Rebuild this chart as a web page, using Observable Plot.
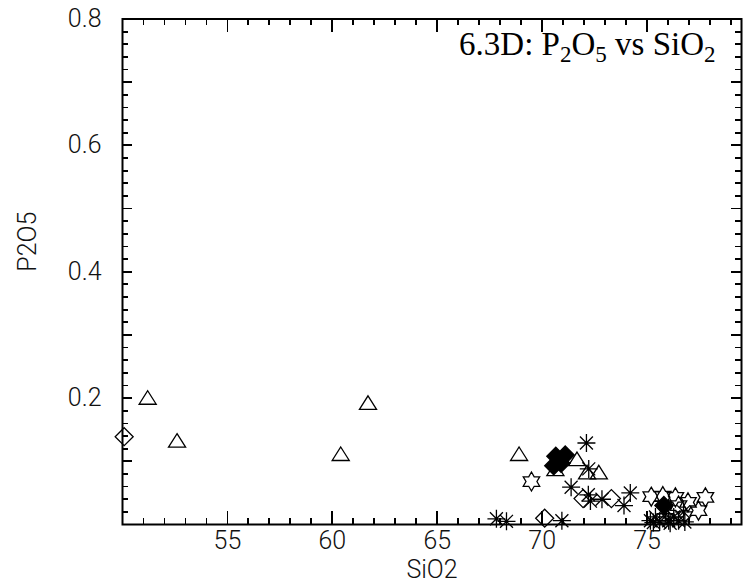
<!DOCTYPE html>
<html>
<head>
<meta charset="utf-8">
<script src="https://cdn.jsdelivr.net/npm/d3@7"></script>
<script src="https://cdn.jsdelivr.net/npm/@observablehq/plot@0.6"></script>
<style>
  html, body { margin: 0; padding: 0; background: #fff; }
  #chart { width: 747px; height: 586px; }
</style>
</head>
<body>
<div id="chart"></div>
<script>
// ---- data (SiO2 wt%, P2O5 wt%) ----
const triangleSiO2 = [51.2, 52.6, 60.4, 61.7, 68.9, 70.63, 71.66, 72.14, 72.7];
const triangleP2O5 = [0.201, 0.133, 0.112, 0.193, 0.112, 0.088, 0.104, 0.083, 0.083];

const diamondSiO2 = [50.08, 70.12, 71.95, 73.3];
const diamondP2O5 = [0.139, 0.010, 0.041, 0.041];

const asteriskSiO2 = [67.82, 68.3, 70.94, 72.11, 72.22, 71.38, 72.2, 72.3, 72.85, 74.2, 73.9,
                      75.16, 75.4, 75.6, 75.87, 76.03, 76.27, 76.5, 76.8, 76.74, 75.3, 76.1];
const asteriskP2O5 = [0.009, 0.005, 0.006, 0.129, 0.088, 0.059, 0.047, 0.037, 0.040, 0.050, 0.030,
                      0.006, 0.012, 0.004, 0.017, 0.006, 0.012, 0.006, 0.004, 0.020, 0.003, 0.002];

const hexagramSiO2 = [69.49, 75.2, 75.75, 76.35, 76.95, 77.78, 77.45, 76.5];
const hexagramP2O5 = [0.068, 0.044, 0.045, 0.043, 0.035, 0.043, 0.022, 0.030];

const filledSiO2 = [70.55, 70.65, 71.1, 70.9, 75.8];
const filledP2O5 = [0.093, 0.108, 0.110, 0.097, 0.030];

const xMajorTicks = [55, 60, 65, 70, 75];
const xMinorTicks = d3.range(51, 80, 1);
const yLabelTicks = [0.2, 0.4, 0.6, 0.8];
const yMajorTicks = [0.1, 0.2, 0.3, 0.4, 0.5, 0.6, 0.7];
const yMinorTicks = d3.range(1, 40).map(i => +(i * 0.02).toFixed(2));

const xDomain = [50, 79.5];
const yDomain = [0, 0.8];
const xTitle = "SiO2";
const yTitle = "P2O5";
const noteText = "6.3D: P2O5 vs SiO2";

// ---- build tables ----
const zip = (xs, ys) => xs.map((x, i) => ({SiO2: x, P2O5: ys[i]}));
const triangles = zip(triangleSiO2, triangleP2O5);
const diamonds = zip(diamondSiO2, diamondP2O5);
const asterisks = zip(asteriskSiO2, asteriskP2O5);
const hexagrams = zip(hexagramSiO2, hexagramP2O5);
const filled = zip(filledSiO2, filledP2O5);

// ---- custom IDL-like symbols ----
const rad = size => Math.sqrt(size / Math.PI);
const symTriangle = {draw(c, size) { const r = rad(size), h = r * 0.75, w = r * 0.95;
  c.moveTo(0, -h); c.lineTo(w, h); c.lineTo(-w, h); c.closePath(); }};
const symDiamond = {draw(c, size) { const r = rad(size);
  c.moveTo(0, -r); c.lineTo(r, 0); c.lineTo(0, r); c.lineTo(-r, 0); c.closePath(); }};
const symAsterisk = {draw(c, size) { const r = rad(size), d = r * 0.72;
  c.moveTo(-r, 0); c.lineTo(r, 0); c.moveTo(0, -r); c.lineTo(0, r);
  c.moveTo(-d, -d); c.lineTo(d, d); c.moveTo(-d, d); c.lineTo(d, -d); }};
const symHexagram = {draw(c, size) { const R = rad(size), ri = R / Math.sqrt(3);
  for (let k = 0; k < 12; k++) {
    const a = -Math.PI / 2 + k * Math.PI / 6, rr = k % 2 ? ri : R;
    const px = rr * Math.cos(a), py = rr * Math.sin(a);
    k ? c.lineTo(px, py) : c.moveTo(px, py);
  }
  c.closePath(); }};

// ---- layout constants ----
const W = 747, H = 586, mL = 122, mR = 6, mT = 18.5, mB = 62;
const xPerPx = (xDomain[1] - xDomain[0]) / (W - mL - mR);
const yPerPx = (yDomain[1] - yDomain[0]) / (H - mT - mB);
const minorLen = 6, xMajorLen = 13, yMajorLen = 10;

const tickFont = {fontFamily: "Roboto, 'DejaVu Sans', sans-serif", fontWeight: 300, fontSize: 25, fill: "#111"};
const rule = {stroke: "#000", strokeWidth: 1.8, shapeRendering: "crispEdges"};
const fmt = d => String(d);

const chart = Plot.plot({
  width: W,
  height: H,
  marginLeft: mL,
  marginRight: mR,
  marginTop: mT,
  marginBottom: mB,
  style: {background: "#fff", color: "#000", fontFamily: "Roboto, sans-serif"},
  x: {domain: xDomain},
  y: {domain: yDomain},
  marks: [
    Plot.frame({stroke: "#000", strokeWidth: 2, fill: "none"}),
    // inward tick marks on all four sides
    Plot.ruleX(xMinorTicks, {x: d => d, y1: () => yDomain[0], y2: () => yDomain[0] + minorLen * yPerPx, ...rule}),
    Plot.ruleX(xMajorTicks, {x: d => d, y1: () => yDomain[0], y2: () => yDomain[0] + xMajorLen * yPerPx, ...rule}),
    Plot.ruleX(xMinorTicks, {x: d => d, y1: () => yDomain[1], y2: () => yDomain[1] - minorLen * yPerPx, ...rule}),
    Plot.ruleX(xMajorTicks, {x: d => d, y1: () => yDomain[1], y2: () => yDomain[1] - xMajorLen * yPerPx, ...rule}),
    Plot.ruleY(yMinorTicks, {y: d => d, x1: () => xDomain[0], x2: () => xDomain[0] + minorLen * xPerPx, ...rule}),
    Plot.ruleY(yMajorTicks, {y: d => d, x1: () => xDomain[0], x2: () => xDomain[0] + yMajorLen * xPerPx, ...rule}),
    Plot.ruleY(yMinorTicks, {y: d => d, x1: () => xDomain[1], x2: () => xDomain[1] - minorLen * xPerPx, ...rule}),
    Plot.ruleY(yMajorTicks, {y: d => d, x1: () => xDomain[1], x2: () => xDomain[1] - yMajorLen * xPerPx, ...rule}),
    // tick labels
    Plot.axisX(xMajorTicks, {anchor: "bottom", tickSize: 0, tickPadding: 7, tickFormat: fmt, label: null, ...tickFont}),
    Plot.axisY(yLabelTicks, {anchor: "left", tickSize: 0, tickPadding: 21, tickFormat: fmt, label: null, ...tickFont}),
    // axis titles
    Plot.text([xTitle], {text: d => d, frameAnchor: "bottom", dy: 53, ...tickFont}),
    Plot.text([yTitle], {text: d => d, frameAnchor: "left", dx: -95, rotate: -90, ...tickFont}),
    // panel note
    Plot.text([noteText], {text: d => d, frameAnchor: "top-right", textAnchor: "end", lineAnchor: "bottom",
      dx: -26, dy: 36, fontFamily: "'Liberation Serif', 'Times New Roman', serif", fontSize: 33, fill: "#000",
      className: "note"}),
    // data
    Plot.dot(triangles, {x: "SiO2", y: "P2O5", symbol: symTriangle, r: 9, stroke: "#000", fill: "none", strokeWidth: 1.3}),
    Plot.dot(diamonds, {x: "SiO2", y: "P2O5", symbol: symDiamond, r: 9, stroke: "#000", fill: "none", strokeWidth: 1.3}),
    Plot.dot(hexagrams, {x: "SiO2", y: "P2O5", symbol: symHexagram, r: 9.5, stroke: "#000", fill: "none", strokeWidth: 1.3}),
    Plot.dot(asterisks, {x: "SiO2", y: "P2O5", symbol: symAsterisk, r: 9, stroke: "#000", fill: "none", strokeWidth: 1.3}),
    Plot.dot(filled, {x: "SiO2", y: "P2O5", symbol: symDiamond, r: 9, stroke: "#000", fill: "#000", strokeWidth: 1.3})
  ]
});

// subscripts in the note
const t = chart.querySelector("g.note text");
if (t) {
  t.textContent = "";
  const parts = [["6.3D: P", 0], ["2", 1], ["O", 0], ["5", 1], [" vs SiO", 0], ["2", 1]];
  let cur = 0;
  for (const [s, sub] of parts) {
    const ts = document.createElementNS("http://www.w3.org/2000/svg", "tspan");
    ts.textContent = s;
    const target = sub ? 7 : 0;
    if (target !== cur) ts.setAttribute("dy", target - cur);
    cur = target;
    if (sub) ts.setAttribute("font-size", "23");
    t.appendChild(ts);
  }
}
document.getElementById("chart").appendChild(chart);
</script>
</body>
</html>
